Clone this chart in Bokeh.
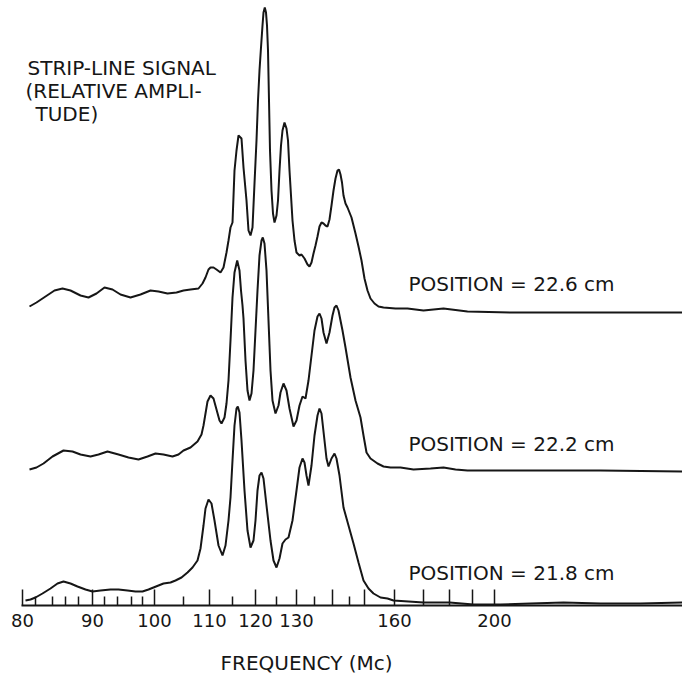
from bokeh.plotting import figure
from bokeh.models import Range1d, FixedTicker, Label, Title
from bokeh.embed import file_html
from bokeh.resources import INLINE

# ---- data (x: position along the chart's frequency scale, y: signal height) ----
# frequency scale calibration (major ticks) and labels
TICK_POS = [1, 71, 133, 188, 234, 275, 311, 343, 373, 402, 428, 451, 473]
TICK_FREQ = [80, 90, 100, 110, 120, 130, 140, 150, 160, 170, 180, 190, 200]
TICK_SHOWN = [80, 90, 100, 110, 120, 130, 160, 200]
MINOR_POS = [14, 31, 44, 57, 83, 96, 110, 121, 162, 211, 255, 293, 328]

X_226 = [8, 15, 24, 33, 41, 49, 59, 67, 75, 83, 91, 99, 109, 119, 129, 137, 146, 155, 162, 169, 177,
         181, 184, 187, 189, 192, 195, 199, 202, 205, 207, 209, 211, 213, 215, 217, 220, 222, 225, 227,
         229, 231, 233, 235, 236.5, 238, 239.3, 241, 242, 243.3, 244.5, 245.5, 246.5, 247.5, 248.5, 250,
         251.5, 253, 255, 256.5, 258, 259.5, 261, 263, 265, 266.5, 268, 269.5, 271, 273, 275, 278, 280,
         283, 286, 288, 290, 292, 294, 296, 298, 300, 302, 304, 306, 308, 310, 312, 314, 316, 317.5, 319,
         320.5, 322, 324, 326, 328, 330, 332, 334, 337, 340, 343, 346, 349, 353, 357, 362, 374, 386, 402,
         422, 446, 492, 559, 661]
Y_226 = [299, 303, 309, 315, 317, 315, 310, 308, 312, 318, 316, 311, 308, 311, 315, 314, 312, 313, 315, 316, 317,
         322, 328, 336, 338, 338, 336, 333, 338, 353, 365, 378, 383, 435, 455, 470, 467, 438, 405, 375,
         370, 378, 422, 465, 505, 535, 555, 580, 593, 598, 593, 580, 555, 505, 455, 415,
         392, 383, 390, 405, 435, 460, 475, 483, 477, 465, 435, 410, 385, 365, 353, 350, 351,
         347, 341, 339, 343, 352, 360, 369, 379, 383, 382, 380, 379, 386, 400, 415, 427, 435, 436, 431,
         423, 410, 402, 398, 393, 388, 380, 372, 359, 345, 327, 315, 307, 302, 299, 298, 297, 297, 295,
         297, 294, 293, 293, 293]

X_222 = [8, 15, 22, 31, 42, 51, 59, 69, 77, 86, 97, 107, 117, 126, 134, 142, 151, 157, 162, 169, 176,
         180, 182, 184, 186, 189, 192, 195, 198, 200, 203, 205, 207, 209, 211, 213, 215.7, 218, 219.5,
         221, 222, 224, 226, 228, 230, 232, 234, 236, 238, 240, 241.3, 243, 245, 247, 249, 251, 254, 257,
         259, 262, 265, 268, 272, 275, 278, 281, 284, 287, 290, 293, 296, 298, 300, 302, 305, 308, 311,
         313, 315, 317, 319, 321, 324, 329, 334, 339, 342, 345, 349, 356, 362, 369, 379, 392, 409, 422,
         434, 446, 499, 579, 661]
Y_222 = [136, 138, 142, 149, 155, 154, 151, 149, 151, 154, 151, 148, 146, 149, 152, 151, 149, 151, 155, 158, 164,
         171, 180, 192, 204, 210, 207, 196, 185, 182, 188, 202, 225, 265, 308, 333, 345, 335, 315,
         300, 287, 245, 215, 205, 212, 235, 275, 315, 350, 365, 368, 362, 335, 285, 235, 205, 192, 200,
         213, 222, 215, 197, 179, 185, 200, 209, 207, 225, 250, 275, 289, 292, 287, 273, 262, 273, 290,
         298, 300, 295, 285, 275, 258, 228, 205, 188, 170, 153, 147, 142, 139, 138, 138, 136, 137, 138,
         136, 135, 135, 135, 134]

X_218 = [4, 9, 14, 21, 29, 36, 42, 49, 56, 64, 71, 79, 89, 97, 106, 114, 121, 127, 132, 137, 142, 149,
         154, 160, 166, 171, 176, 179, 182, 184, 187, 190, 193, 197, 201, 204, 207, 209, 211, 213, 215,
         216.3, 218, 220, 223, 226, 229, 232, 234, 236, 238, 240, 242, 245, 249, 252, 255, 258, 261, 264,
         267, 271, 275, 278, 281, 283, 285, 287, 290, 293, 296, 298, 300, 303, 305, 307, 310, 313, 315,
         318, 322, 327, 332, 337, 342, 347, 352, 359, 366, 372, 402, 428, 452, 479, 509, 542, 579, 619, 661]
Y_218 = [5, 6, 8, 12, 17, 22, 24, 22, 19, 16, 14, 15, 16, 16, 15, 14, 14, 16, 18, 20, 22, 23,
         25, 28, 33, 38, 45, 57, 80, 97, 106, 102, 85, 60, 50, 60, 85, 108, 145, 180, 197,
         199, 193, 165, 115, 75, 58, 65, 85, 115, 130, 133, 127, 100, 65, 45, 38, 47, 62, 66,
         68, 85, 115, 138, 147, 143, 130, 120, 140, 170, 190, 197, 192, 165, 147, 139, 147, 152, 147,
         130, 98, 80, 62, 43, 25, 17, 12, 8, 7, 5, 3, 3, 1, 1, 2, 3, 2, 2, 3]

SERIES = [("22.6", X_226, Y_226), ("22.2", X_222, Y_222), ("21.8", X_218, Y_218)]

FONT = "DejaVu Sans"
INK = "#161616"

p = figure(width=682, height=677, output_backend="svg", toolbar_location=None,
           x_range=Range1d(0, 661), y_range=Range1d(0, 605),
           y_axis_location=None, min_border_left=21, min_border_right=0,
           min_border_top=0, min_border_bottom=72)
p.outline_line_color = None
p.xgrid.visible = False
p.ygrid.visible = False
p.background_fill_color = "white"
p.border_fill_color = "white"

for name, xs, ys in SERIES:
    p.line(xs, ys, line_color=INK, line_width=2)

ax = p.xaxis[0]
ax.ticker = FixedTicker(ticks=TICK_POS, minor_ticks=MINOR_POS)
ax.major_label_overrides = {pos: (str(f) if f in TICK_SHOWN else "") for pos, f in zip(TICK_POS, TICK_FREQ)}
ax.axis_line_color = INK
ax.axis_line_width = 2
ax.major_tick_line_color = INK
ax.major_tick_line_width = 1.5
ax.minor_tick_line_color = INK
ax.minor_tick_line_width = 1.5
ax.major_tick_in = 16
ax.major_tick_out = 0
ax.minor_tick_in = 9
ax.minor_tick_out = 0
ax.major_label_standoff = 8
ax.major_label_text_font = FONT
ax.major_label_text_font_size = "18px"
ax.major_label_text_color = INK

# small blank spacer between the tick labels and the axis title
p.add_layout(Title(text=" ", text_font_size="8px", standoff=8), "below")
# axis title, placed under the axis
p.add_layout(Title(text="FREQUENCY (Mc)", align="left", offset=199, standoff=0,
                   text_font=FONT, text_font_size="20px", text_font_style="normal",
                   text_color=INK), "below")

def add_text(txt, x, y):
    p.add_layout(Label(x=x, y=y, text=txt, text_font=FONT, text_font_size="20px",
                       text_color=INK, text_baseline="alphabetic", text_align="left"))

add_text("STRIP-LINE SIGNAL", 6, 538)
add_text("(RELATIVE AMPLI-", 4, 515)
add_text("TUDE)", 14, 492)
add_text("POSITION = 22.6 cm", 387, 322)
add_text("POSITION = 22.2 cm", 387, 162)
add_text("POSITION = 21.8 cm", 387, 33)

open("out.html", "w").write(file_html(p, INLINE))
